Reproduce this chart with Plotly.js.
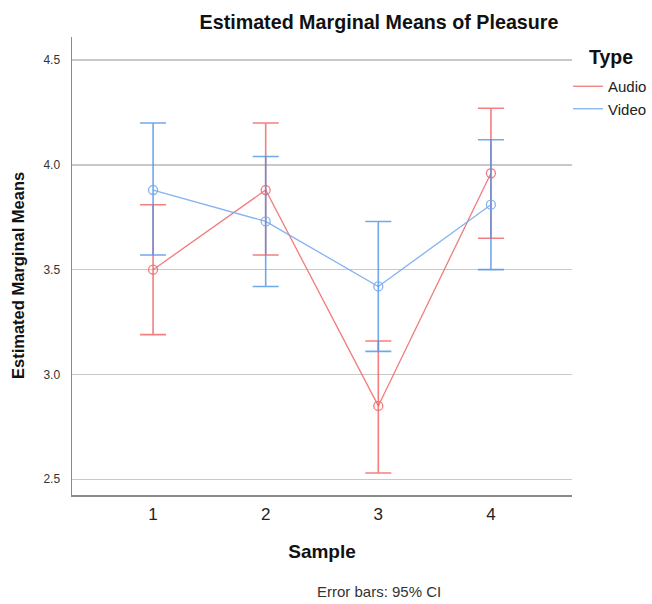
<!DOCTYPE html>
<html>
<head>
<meta charset="utf-8">
<script src="https://cdn.plot.ly/plotly-3.0.1.min.js"></script>
<style>
  html, body { margin: 0; padding: 0; background: #fff; }
  #chart { width: 652px; height: 604px; }
</style>
</head>
<body>
<div id="chart"></div>
<script>
// Sample levels on the x axis
const samples = [1, 2, 3, 4];

// Estimated marginal means with 95% confidence limits
const audioMean = [3.50, 3.88, 2.85, 3.96];
const audioLow  = [3.19, 3.57, 2.53, 3.65];
const audioHigh = [3.81, 4.20, 3.16, 4.27];

const videoMean = [3.88, 3.73, 3.42, 3.81];
const videoLow  = [3.57, 3.42, 3.11, 3.50];
const videoHigh = [4.20, 4.04, 3.73, 4.12];

const yTicks = [2.5, 3.0, 3.5, 4.0, 4.5];
const yTickText = ['2.5', '3.0', '3.5', '4.0', '4.5'];

const FONT = 'Liberation Sans, Arial, sans-serif';

function seriesTraces(name, mean, low, high, lineColor, barColor) {
  const plus = high.map((h, i) => h - mean[i]);
  const minus = mean.map((m, i) => m - low[i]);
  return [
    {
      type: 'scatter', mode: 'lines', name: name,
      x: samples, y: mean,
      line: { color: lineColor, width: 1.3 },
      hoverinfo: 'skip'
    },
    {
      type: 'scatter', mode: 'markers', name: name, showlegend: false,
      x: samples, y: mean,
      marker: { symbol: 'circle-open', size: 9, color: lineColor, line: { width: 1.3, color: lineColor } },
      error_y: {
        type: 'data', symmetric: false, array: plus, arrayminus: minus,
        color: barColor, thickness: 1.6, width: 13
      }
    }
  ];
}

const traces = [
  ...seriesTraces('Audio', audioMean, audioLow, audioHigh, 'rgba(240,110,110,0.9)', 'rgba(240,95,95,0.8)'),
  ...seriesTraces('Video', videoMean, videoLow, videoHigh, 'rgba(120,170,240,0.9)', 'rgba(80,145,230,0.8)')
];

const layout = {
  width: 652, height: 604,
  paper_bgcolor: '#ffffff', plot_bgcolor: '#ffffff',
  margin: { l: 72, r: 80, t: 37, b: 109, autoexpand: false },
  font: { family: FONT, color: '#222' },
  title: {
    text: '<b>Estimated Marginal Means of Pleasure</b>',
    font: { family: FONT, size: 19.7, color: '#111' },
    xref: 'container', x: 379 / 652, xanchor: 'center',
    yref: 'container', y: 1 - 22 / 604, yanchor: 'middle'
  },
  xaxis: {
    range: [0.28, 4.72],
    tickvals: samples, ticktext: samples.map(String),
    showgrid: false, zeroline: false,
    showline: true, linecolor: '#8a8a8a', linewidth: 1.5,
    ticks: '', ticklabelstandoff: 3,
    tickfont: { family: FONT, size: 17, color: '#222' },
    title: { text: '<b>Sample</b>', font: { family: FONT, size: 19, color: '#111' }, standoff: 22 }
  },
  yaxis: {
    range: [2.425, 4.61],
    tickvals: yTicks, ticktext: yTickText,
    showgrid: true, gridcolor: '#c9c9c9', gridwidth: 1.5,
    zeroline: false,
    showline: true, linecolor: '#8a8a8a', linewidth: 1.5,
    ticks: '', ticklabelstandoff: 8,
    tickfont: { family: FONT, size: 12, color: '#333' }
  },
  showlegend: true,
  legend: {
    xref: 'container', x: 568 / 652, xanchor: 'left',
    yref: 'container', y: 1 - 70 / 604, yanchor: 'top',
    font: { family: FONT, size: 15, color: '#222' },
    bgcolor: 'rgba(0,0,0,0)', borderwidth: 0,
    tracegroupgap: 0
  },
  annotations: [
    {
      text: '<b>Estimated Marginal Means</b>', textangle: -90,
      xref: 'paper', x: 0, xanchor: 'center', xshift: -72 + 18,
      yref: 'paper', y: (495 - 276) / 458, yanchor: 'middle',
      showarrow: false, font: { family: FONT, size: 16.5, color: '#111' }
    },
    {
      text: '<b>Type</b>',
      xref: 'paper', x: (611 - 72) / 500, xanchor: 'center',
      yref: 'paper', y: (495 - 57) / 458, yanchor: 'middle',
      showarrow: false, font: { family: FONT, size: 19.5, color: '#111' }
    },
    {
      text: 'Error bars: 95% CI',
      xref: 'paper', x: (379 - 72) / 500, xanchor: 'center',
      yref: 'paper', y: (495 - 591) / 458, yanchor: 'middle',
      showarrow: false, font: { family: FONT, size: 15, color: '#333' }
    }
  ]
};

Plotly.newPlot('chart', traces, layout, { displayModeBar: false, staticPlot: true });
</script>
</body>
</html>
